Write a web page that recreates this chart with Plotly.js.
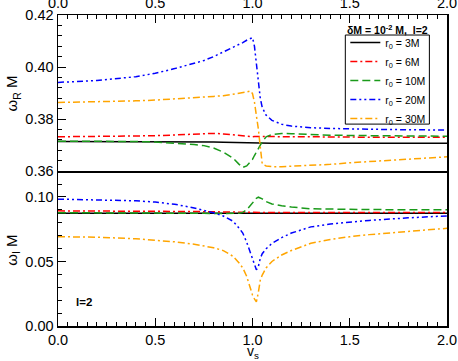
<!DOCTYPE html>
<html>
<head>
<meta charset="utf-8">
<script src="https://cdn.plot.ly/plotly-3.0.1.min.js"></script>
<style>html,body{margin:0;padding:0;background:#fff;}#chart{width:458px;height:361px;}</style>
</head>
<body>
<div id="chart"></div>
<script>
// shared abscissa v_s
var vs = [0, 0.2, 0.4, 0.5, 0.6, 0.7, 0.75, 0.8, 0.85, 0.9, 0.93, 0.95, 0.97, 0.99, 1.0, 1.01, 1.02, 1.03, 1.04, 1.05, 1.07, 1.1, 1.15, 1.2, 1.3, 1.4, 1.5, 1.6, 1.8, 2.0];

var seriesNames = ["r<sub>0</sub> = 3M", "r<sub>0</sub> = 6M", "r<sub>0</sub> = 10M", "r<sub>0</sub> = 20M", "r<sub>0</sub> = 30M"];

// omega_R M (top panel)
var wR_3M  = [0.3714,0.3714,0.3714,0.3714,0.3714,0.3714,0.3713,0.3712,0.3711,0.3710,0.3709,0.3709,0.3708,0.3708,0.3707,0.3707,0.3707,0.3707,0.3707,0.3707,0.3707,0.3707,0.3707,0.3707,0.3707,0.3707,0.3707,0.3707,0.3707,0.3707];
var wR_6M  = [0.3732,0.3733,0.3734,0.3736,0.3739,0.3743,0.3745,0.3745,0.3743,0.3739,0.3737,0.3735,0.3733,0.3732,0.3732,0.3733,0.3733,0.3733,0.3733,0.3733,0.3733,0.3732,0.3731,0.3731,0.3731,0.3731,0.3731,0.3730,0.3730,0.3730];
var wR_10M = [0.3715,0.3715,0.3714,0.3712,0.3708,0.3702,0.3698,0.3689,0.3673,0.3650,0.3627,0.3614,0.3620,0.3636,0.3645,0.3660,0.3675,0.3688,0.3700,0.3712,0.3732,0.3741,0.3745,0.3744,0.3740,0.3738,0.3737,0.3736,0.3735,0.3734];
var wR_20M = [0.3941,0.3948,0.3963,0.3976,0.3994,0.4013,0.4025,0.4040,0.4057,0.4075,0.4087,0.4094,0.4103,0.4111,0.4113,0.4080,0.4010,0.3935,0.3880,0.3845,0.3815,0.3795,0.3780,0.3773,0.3767,0.3764,0.3762,0.3761,0.3759,0.3758];
var wR_30M = [0.3864,0.3866,0.3870,0.3873,0.3877,0.3882,0.3884,0.3887,0.3890,0.3895,0.3898,0.3901,0.3904,0.3908,0.3898,0.3865,0.3815,0.3762,0.3693,0.3628,0.3620,0.3617,0.3617,0.3619,0.3621,0.3626,0.3632,0.3637,0.3646,0.3655];

// omega_I M (bottom panel)
var wI_3M  = [0.0874,0.0874,0.0874,0.0874,0.0874,0.0874,0.0874,0.0874,0.0873,0.0873,0.0873,0.0873,0.0873,0.0873,0.0873,0.0873,0.0873,0.0873,0.0873,0.0873,0.0873,0.0873,0.0873,0.0873,0.0873,0.0873,0.0873,0.0873,0.0873,0.0873];
var wI_6M  = [0.0892,0.0892,0.0891,0.0890,0.0889,0.0887,0.0886,0.0884,0.0882,0.0880,0.0879,0.0879,0.0879,0.0879,0.0879,0.0879,0.0879,0.0879,0.0879,0.0879,0.0879,0.0879,0.0879,0.0879,0.0879,0.0879,0.0879,0.0879,0.0879,0.0879];
var wI_10M = [0.0878,0.0878,0.0877,0.0876,0.0875,0.0874,0.0873,0.0872,0.0871,0.0871,0.0873,0.0880,0.0900,0.0935,0.0955,0.0975,0.0990,0.0998,0.0994,0.0985,0.0964,0.0946,0.0932,0.0922,0.0908,0.0905,0.0903,0.0902,0.0901,0.0900];
var wI_20M = [0.0983,0.0979,0.0970,0.0960,0.0943,0.0915,0.0898,0.0877,0.0852,0.0812,0.0760,0.0720,0.0650,0.0560,0.0520,0.0480,0.0435,0.0460,0.0524,0.0560,0.0598,0.0640,0.0685,0.0720,0.0768,0.0790,0.0805,0.0818,0.0838,0.0853];
var wI_30M = [0.0692,0.0688,0.0676,0.0666,0.0652,0.0634,0.0622,0.0606,0.0584,0.0540,0.0490,0.0450,0.0385,0.0285,0.0240,0.0210,0.0187,0.0260,0.0355,0.0395,0.0450,0.0500,0.0550,0.0585,0.0641,0.0670,0.0692,0.0708,0.0735,0.0757];

var topVals = [wR_3M, wR_6M, wR_10M, wR_20M, wR_30M];
var botVals = [wI_3M, wI_6M, wI_10M, wI_20M, wI_30M];
var colors = ["#000000", "#ff0000", "#1a9a1a", "#0000ff", "#ffa500"];
var dashes = ["solid", "7px,3px,2px,3px", "8px,4px", "6px,3px,2px,3px,2px,3px", "7px,3px,2px,3px"];

var FONT = "Liberation Sans, Arial, Helvetica, sans-serif";
var traces = [];
for (var i = 0; i < 5; i++) {
  traces.push({x: vs, y: topVals[i], xaxis: "x2", yaxis: "y2", mode: "lines", name: seriesNames[i],
    line: {color: colors[i], width: 1.5, dash: dashes[i]}, showlegend: true});
}
for (var j = 0; j < 5; j++) {
  traces.push({x: vs, y: botVals[j], xaxis: "x", yaxis: "y", mode: "lines", name: seriesNames[j],
    line: {color: colors[j], width: 1.5, dash: dashes[j]}, showlegend: false});
}

var TF = {family: FONT, size: 14.5, color: "#000"};
function xax(anchor, side, labels, line, mirror) {
  return {anchor: anchor, side: side, domain: [0, 1], range: [0, 2], dtick: 0.5, tick0: 0, tickformat: ".1f",
    ticks: "inside", ticklen: 8, tickwidth: 1, tickcolor: "#000", showline: line, linecolor: "#000", linewidth: 1.5,
    mirror: mirror, showgrid: false, zeroline: false, tickfont: TF, showticklabels: labels,
    minor: {dtick: 0.05, tick0: 0, ticks: "inside", ticklen: 4, tickwidth: 1, tickcolor: "#000", showgrid: false}};
}
function yax(range, dtick, mdtick, side, labels, line) {
  return {range: range, dtick: dtick, tick0: 0, tickformat: ".2f", side: side,
    ticks: "inside", ticklen: 8, tickwidth: 1, tickcolor: "#000", showline: line, linecolor: "#000", linewidth: 1.5,
    mirror: line, showgrid: false, zeroline: false, tickfont: TF, showticklabels: labels,
    minor: {dtick: mdtick, tick0: 0, ticks: "inside", ticklen: 4, tickwidth: 1, tickcolor: "#000", showgrid: false}};
}

var xa = xax("y", "bottom", true, true, false);
var xa2 = xax("y2", "top", true, true, true);
var xa3 = xax("y", "top", false, false, false); xa3.overlaying = "x";
var xa4 = xax("y2", "bottom", false, false, false); xa4.overlaying = "x2";
var ya = yax([0, 0.12], 0.05, 0.01, "left", true, true); ya.domain = [0, 0.498]; ya.anchor = "x";
var ya2 = yax([0.36, 0.42], 0.02, 0.004, "left", true, true); ya2.domain = [0.498, 1]; ya2.anchor = "x2";
var ya3 = yax([0, 0.12], 0.05, 0.01, "right", false, false); ya3.overlaying = "y"; ya3.anchor = "x";
var ya4 = yax([0.36, 0.42], 0.02, 0.004, "right", false, false); ya4.overlaying = "y2"; ya4.anchor = "x2";

var layout = {
  width: 458, height: 361,
  margin: {l: 58, r: 11, t: 15, b: 35, pad: 0},
  paper_bgcolor: "#fff", plot_bgcolor: "#fff",
  font: {family: FONT, color: "#000"},
  xaxis: xa, xaxis2: xa2, xaxis3: xa3, xaxis4: xa4,
  yaxis: ya, yaxis2: ya2, yaxis3: ya3, yaxis4: ya4,
  showlegend: true,
  legend: {x: 0.7386, y: 0.9581, xanchor: "left", yanchor: "top", bgcolor: "rgba(0,0,0,0)", borderwidth: 0,
    font: {family: FONT, size: 10.5, color: "#000"}, tracegroupgap: 0, itemwidth: 30},
  shapes: [
    {type: "rect", xref: "paper", yref: "paper", x0: 0.7386, x1: 0.9547, y0: 0.6492, y1: 0.9356,
      line: {color: "#000", width: 1}, fillcolor: "#fff", layer: "above"}
  ],
  annotations: [
    {xref: "paper", yref: "paper", x: 0.8466, y: 0.9527, xanchor: "center", yanchor: "middle", showarrow: false,
      text: "<b>\u03b4M = 10<sup>-2</sup> M,\u00a0 l=2</b>", font: {family: FONT, size: 10.5, color: "#000"}},
    {xref: "paper", yref: "paper", x: -0.117, y: 0.749, xanchor: "center", yanchor: "middle", showarrow: false, textangle: -90,
      text: "\u03c9<sub>R</sub> M", font: {family: FONT, size: 15, color: "#000"}},
    {xref: "paper", yref: "paper", x: -0.117, y: 0.2437, xanchor: "center", yanchor: "middle", showarrow: false, textangle: -90,
      text: "\u03c9<sub>I</sub> M", font: {family: FONT, size: 15, color: "#000"}},
    {xref: "paper", yref: "paper", x: 0.5, y: -0.082, xanchor: "center", yanchor: "middle", showarrow: false,
      text: "v<sub>s</sub>", font: {family: FONT, size: 14, color: "#000"}},
    {xref: "paper", yref: "paper", x: 0.067, y: 0.0763, xanchor: "center", yanchor: "middle", showarrow: false,
      text: "<b>l=2</b>", font: {family: FONT, size: 11.5, color: "#000"}}
  ]
};

Plotly.newPlot("chart", traces, layout, {staticPlot: true, displayModeBar: false});
</script>
</body>
</html>
